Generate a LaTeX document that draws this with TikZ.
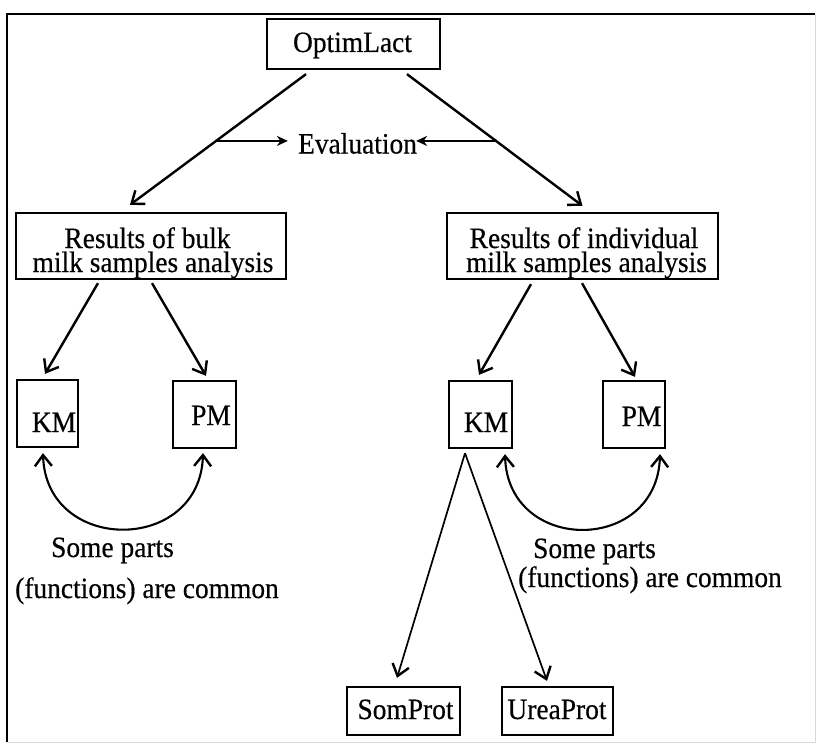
\documentclass[tikz,border=0pt]{standalone}
\usepackage{fontspec}
\setmainfont{Liberation Serif}[FakeStretch=0.93,FakeBold=0.4]
\usetikzlibrary{arrows.meta,calc}
\begin{document}
\begin{tikzpicture}[x=1pt,y=-1pt,
  box/.style={draw,line width=2.3pt,inner sep=0pt},
  lbl/.style={anchor=base,inner sep=0pt,font=\fontsize{29.5}{24}\selectfont},
  barb/.tip={Straight Barb[length=11pt,width=17pt,line width=2.4pt]},
  link/.style={line width=2.4pt,-barb},
  thinlink/.style={line width=1.7pt,-barb},
  both/.style={line width=2.1pt,barb-barb},
  evarrow/.style={line width=2pt,-{Stealth[length=11pt,width=10pt]}}]
\useasboundingbox (0,0) rectangle (818,749);

% outer frame
\draw[line width=2.4pt] (815,14) -- (7,14) -- (7,742);
\draw[black!15,line width=1pt] (7,742) -- (815,742) -- (815,14);

% boxes
\node[box,minimum width=173pt,minimum height=50pt] (opt) at (353.5,44) {};
\node[lbl] (optt) at (352.5,52) {OptimLact};

\node[box,minimum width=270pt,minimum height=66pt] (bulk) at (151,246) {};
\node[lbl] (bulk1) at (147.5,248) {Results of bulk};
\node[lbl] (bulk2) at (153,272) {milk samples analysis};

\node[box,minimum width=271pt,minimum height=66pt] (indiv) at (582.5,246) {};
\node[lbl] (indiv1) at (584,248) {Results of individual};
\node[lbl] (indiv2) at (586.5,272) {milk samples analysis};

\node[box,minimum width=61pt,minimum height=67pt] (kmL) at (47.5,413.5) {};
\node[lbl] (kmLt) at (54,432) {KM};
\node[box,minimum width=63pt,minimum height=67pt] (pmL) at (204.5,414.5) {};
\node[lbl] (pmLt) at (211,425) {PM};

\node[box,minimum width=63pt,minimum height=67pt] (kmR) at (480.5,414.5) {};
\node[lbl] (kmRt) at (486,432) {KM};
\node[box,minimum width=62pt,minimum height=67pt] (pmR) at (634,414.5) {};
\node[lbl] (pmRt) at (641.5,426) {PM};

\node[box,minimum width=113pt,minimum height=48pt] (som) at (403.5,711) {};
\node[lbl] (somt) at (405.5,719) {SomProt};
\node[box,minimum width=111pt,minimum height=48pt] (urea) at (557.5,711) {};
\node[lbl] (ureat) at (557,719) {UreaProt};

% evaluation label
\node[lbl] (eval) at (357.5,153.5) {Evaluation};

% notes under the double arrows
\node[lbl] (noteL1) at (112.5,557) {Some parts};
\node[lbl] (noteL2) at (147,598) {(functions) are common};
\node[lbl] (noteR1) at (594.5,558) {Some parts};
\node[lbl] (noteR2) at (650,587) {(functions) are common};

% top branches
\coordinate (l1) at ($(opt.south)+(-47.5,4)$);
\coordinate (l2) at ($(bulk.north)+(-21,-7)$);
\coordinate (r1) at ($(opt.south)+(53.5,4)$);
\coordinate (r2) at ($(indiv.north)+(0,-6)$);
\draw[link] (l1) -- (l2);
\draw[link] (r1) -- (r2);

% arrows into the evaluation label
\coordinate (eL) at ($(l1)!0.511!(l2)$);
\coordinate (eR) at ($(r1)!0.507!(r2)$);
\draw[evarrow,shorten >=10pt] (eL) -- (eL -| eval.west);
\draw[evarrow,shorten >=-1pt] (eR) -- (eR -| eval.east);

% second level
\draw[link] ($(bulk.south)+(-53,3)$) -- ($(kmL.north)+(-2.5,-5)$);
\draw[link] ($(bulk.south)+(1,3)$) -- ($(pmL.north)+(1.5,-4)$);
\draw[link] ($(indiv.south)+(-51.5,4)$) -- ($(kmR.north)+(-1.5,-5)$);
\draw[link] ($(indiv.south)+(-0.5,3)$) -- ($(pmR.north)+(1,-3)$);

% KM sub-modules
\coordinate (apex) at ($(kmR.south)+(-15.5,4)$);
\draw[thinlink] (apex) -- ($(som.north)+(-6.5,-8)$);
\draw[thinlink] (apex) -- ($(urea.north)+(-10.5,-5)$);

% shared parts between KM and PM
\draw[both] ($(kmL.south)+(-4.5,5)$) .. controls ($(kmL.south)+(-1.5,106)$) and ($(pmL.south)+(-4.5,105)$) .. ($(pmL.south)+(-1.5,4)$);
\draw[both] ($(kmR.south)+(24.5,5)$) .. controls ($(kmR.south)+(27.5,105)$) and ($(pmR.south)+(23,105)$) .. ($(pmR.south)+(26,5)$);
\end{tikzpicture}
\end{document}
